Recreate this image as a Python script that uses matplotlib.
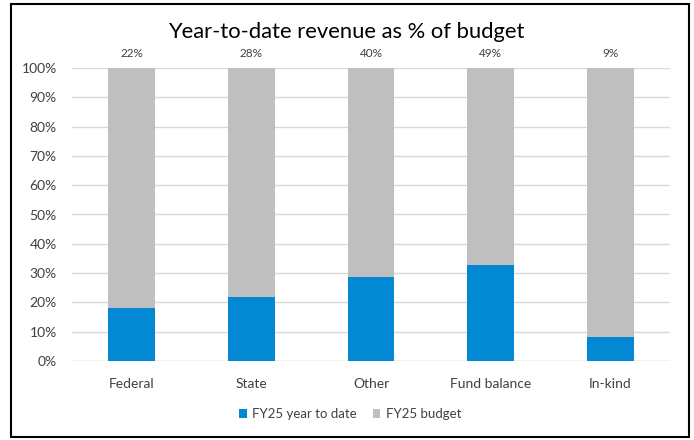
import matplotlib.pyplot as plt
import numpy as np

categories = ['Federal', 'State', 'Other', 'Fund balance', 'In-kind']
ytd = [22, 28, 40, 49, 9]          # year to date, % of budget
budget = [100, 100, 100, 100, 100]  # budget

plt.rcParams['font.family'] = ['Lato', 'DejaVu Sans']

ytd = np.array(ytd, dtype=float)
budget = np.array(budget, dtype=float)
total = ytd + budget
ytd_share = ytd / total * 100
budget_share = budget / total * 100

fig = plt.figure(figsize=(6.94, 4.40), dpi=100)
ax = fig.add_axes([72 / 694, 1 - 361 / 440, 598 / 694, 293 / 440])

x = np.arange(len(categories))
ax.bar(x, ytd_share, width=0.39, color='#0389D4', label='FY25 year to date', zorder=3)
ax.bar(x, budget_share, width=0.39, bottom=ytd_share, color='#BFBFBF', label='FY25 budget', zorder=3)

for i, v in enumerate(ytd):
    ax.text(x[i], 103, f'{v:.0f}%', ha='center', va='bottom', fontsize=8.5, color='#404040')

ax.set_xlim(-0.5, len(categories) - 0.5)
ax.set_ylim(0, 100)
ax.set_yticks(range(0, 101, 10))
ax.set_yticklabels([f'{t}%' for t in range(0, 101, 10)])
ax.set_xticks(x)
ax.set_xticklabels(categories)
ax.tick_params(axis='both', length=0, labelsize=10, colors='#404040')
ax.tick_params(axis='x', pad=12)
ax.tick_params(axis='y', pad=11)
ax.grid(axis='y', color='#D9D9D9', linewidth=1, zorder=0)
for s in ax.spines.values():
    s.set_visible(False)
ax.axhline(0, color='#D9D9D9', linewidth=1, zorder=1)

fig.text(346 / 694, 1 - 32 / 440, 'Year-to-date revenue as % of budget', ha='center', va='center',
         fontsize=15.8, color='#000000')

fig.legend(loc='center', bbox_to_anchor=(350 / 694, 1 - 414 / 440), ncol=2, frameon=False,
           fontsize=9.5, handlelength=0.6, handleheight=0.6, handletextpad=0.4, columnspacing=1.2,
           labelcolor='#404040')

fig.patches.append(plt.Rectangle((11 / 694, 3 / 440), 678 / 694, 433 / 440, transform=fig.transFigure,
                                 fill=False, edgecolor='black', linewidth=1.5))

fig.savefig('out.png', dpi=100)
